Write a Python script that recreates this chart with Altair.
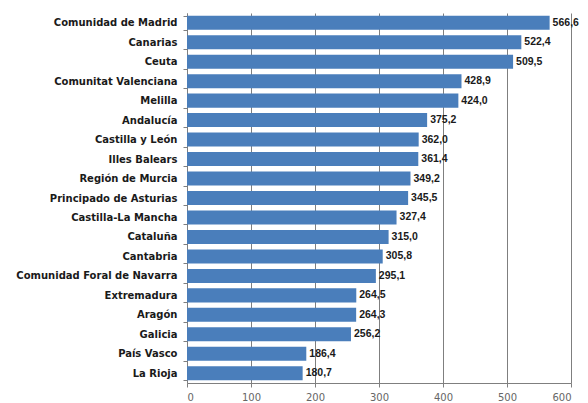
import altair as alt
import pandas as pd

regions = ["Comunidad de Madrid", "Canarias", "Ceuta", "Comunitat Valenciana", "Melilla",
           "Andalucía", "Castilla y León", "Illes Balears", "Región de Murcia",
           "Principado de Asturias", "Castilla-La Mancha", "Cataluña", "Cantabria",
           "Comunidad Foral de Navarra", "Extremadura", "Aragón", "Galicia",
           "País Vasco", "La Rioja"]
values = [566.6, 522.4, 509.5, 428.9, 424.0, 375.2, 362.0, 361.4, 349.2, 345.5,
          327.4, 315.0, 305.8, 295.1, 264.5, 264.3, 256.2, 186.4, 180.7]
x_ticks = [0, 100, 200, 300, 400, 500, 600]

df = pd.DataFrame({"region": regions, "value": values})
df["label"] = [f"{v:.1f}".replace(".", ",") for v in values]

FONT = "DejaVu Sans"

y = alt.Y("region:N", sort=regions, title=None,
          scale=alt.Scale(paddingInner=0.28, paddingOuter=0.14),
          axis=alt.Axis(labelFont=FONT, labelFontWeight="bold", labelFontSize=10,
                        labelColor="#1a1a1a", labelPadding=6, tickBand="extent",
                        tickSize=4, tickColor="#7f7f7f", domainColor="#7f7f7f",
                        grid=False, labelLimit=300))
x = alt.X("value:Q", title=None,
          scale=alt.Scale(domain=[0, 600], nice=False),
          axis=alt.Axis(values=x_ticks, labelFont=FONT, labelFontSize=10,
                        labelColor="#666666", grid=True, gridColor="#7f7f7f",
                        gridWidth=1, domainColor="#7f7f7f", tickColor="#7f7f7f",
                        tickSize=4, labelPadding=5))

bars = alt.Chart(df).mark_bar(color="#4a7ebb").encode(x=x, y=y)
text = alt.Chart(df).mark_text(align="left", baseline="middle", dx=3,
                               font="Liberation Sans", fontWeight="bold",
                               fontSize=10.5, color="#1a1a1a").encode(
    x="value:Q", y=alt.Y("region:N", sort=regions), text="label:N")

chart = (bars + text).properties(
    width=384, height=370,
    autosize=alt.AutoSizeParams(type="none"),
    padding={"left": 179, "top": 5, "right": 9, "bottom": 20},
).configure_view(stroke=None)

chart.save("out.html", embed_options={"renderer": "svg", "actions": False})
